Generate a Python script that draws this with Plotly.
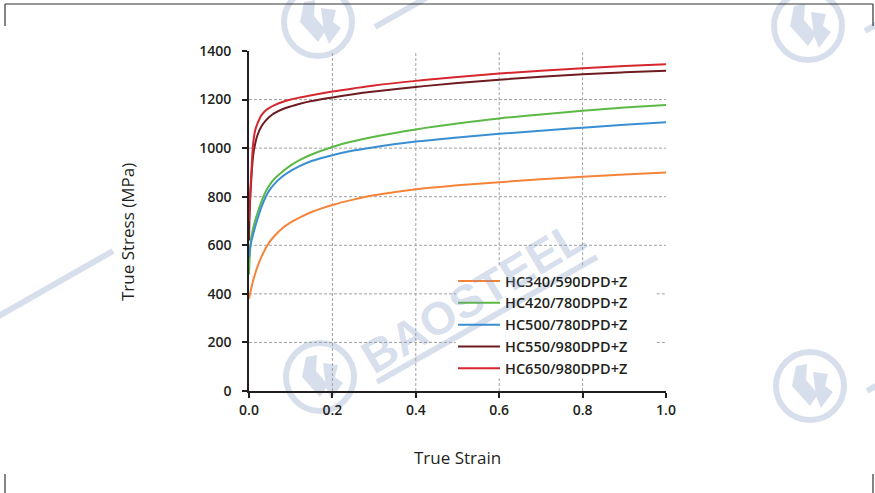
import plotly.graph_objects as go

# ---------------- data ----------------
strain = [0, 0.002, 0.005, 0.01, 0.015, 0.02, 0.03, 0.04, 0.05, 0.06, 0.08, 0.1,
          0.12, 0.15, 0.2, 0.25, 0.3, 0.4, 0.5, 0.6, 0.7, 0.8, 0.9, 1.0]

names = ["HC340/590DPD+Z", "HC420/780DPD+Z", "HC500/780DPD+Z", "HC550/980DPD+Z", "HC650/980DPD+Z"]
hc340 = [380, 396, 420, 455, 484, 510, 553, 588, 615, 636, 670, 694, 713, 737, 766, 788, 806, 831, 847, 860, 872, 882, 891, 900]
hc420 = [480, 560, 625, 670, 703, 731, 781, 821, 850, 872, 903, 929, 950, 974, 1005, 1028, 1047, 1077, 1101, 1122, 1139, 1154, 1167, 1178]
hc500 = [550, 582, 612, 645, 677, 706, 758, 799, 829, 851, 883, 906, 925, 947, 971, 990, 1004, 1027, 1044, 1059, 1072, 1084, 1096, 1107]
hc550 = [620, 760, 860, 970, 1020, 1052, 1090, 1113, 1130, 1143, 1160, 1172, 1182, 1194, 1209, 1222, 1233, 1252, 1268, 1282, 1294, 1304, 1312, 1319]
hc650 = [700, 780, 880, 1020, 1075, 1100, 1136, 1155, 1167, 1176, 1190, 1200, 1208, 1218, 1233, 1246, 1258, 1277, 1293, 1307, 1319, 1329, 1338, 1345]
series = [hc340, hc420, hc500, hc550, hc650]
colors = ["#f5843a", "#5cb946", "#3a8ed2", "#6e1c20", "#d6262e"]

x_ticks = [0, 0.2, 0.4, 0.6, 0.8, 1.0]
y_ticks = [0, 200, 400, 600, 800, 1000, 1200, 1400]

# ---------------- geometry ----------------
W_FIG, H_FIG = 875, 493
L, T, R, B = 249, 51, 209, 102
PW, PH = W_FIG - L - R, H_FIG - T - B

def px2x(px):
    return (px - L) / PW

def py2y(py):
    return (T + PH - py) / PH

TXT = "#231f20"
GRID = "#a0a0a0"
WM = "rgb(216,223,236)"
WM_T = "rgba(118,145,192,0.30)"

fig = go.Figure()
for nm, ys, c in zip(names, series, colors):
    fig.add_trace(go.Scatter(x=strain, y=ys, name=nm, mode="lines",
                             line=dict(color=c, width=2, shape="spline", smoothing=1.0)))

shapes = []
annotations = []

# ---------------- watermark ----------------
logo_centers = [(318, 22), (808, 26), (320, 377), (810, 386), (-164, 371)]
text_sets = [(320, 377)]  # only the fully visible watermark word is written as text
glyph_a = [(-14, -20), (-3, -22), (-4, -6), (8, 8), (0, 20), (-18, 0)]
glyph_b = [(3, -14), (18, -12), (15, 0), (23, 6), (11, 22), (6, 10)]
for cx, cy in logo_centers:
    r = 34
    shapes.append(dict(type="circle", xref="paper", yref="paper", layer="below",
                       x0=px2x(cx - r), x1=px2x(cx + r), y0=py2y(cy + r), y1=py2y(cy - r),
                       line=dict(color=WM, width=6)))
    for g in (glyph_a, glyph_b):
        p = "M" + " L".join(f"{px2x(cx+dx):.5f},{py2y(cy+dy):.5f}" for dx, dy in g) + " Z"
        shapes.append(dict(type="path", xref="paper", yref="paper", layer="below",
                           path=p, fillcolor=WM, line=dict(width=0)))
    shapes.append(dict(type="line", xref="paper", yref="paper", layer="below",
                       x0=px2x(cx + 57), y0=py2y(cy + 5), x1=px2x(cx + 277), y1=py2y(cy - 120),
                       line=dict(color=WM, width=6)))
for cx, cy in text_sets:
    annotations.append(dict(text="<b>BAOSTEEL</b>", xref="paper", yref="paper",
                            x=px2x(cx + 153), y=py2y(cy - 80), showarrow=False,
                            textangle=-31, xanchor="center", yanchor="middle",
                            font=dict(family="Liberation Sans", size=46, color=WM_T)))

# ---------------- crop frame marks ----------------
frame = [((5, 4), (873, 4)), ((5, 4), (5, 26)), ((873, 4), (873, 26)),
         ((5, 474), (5, 493)), ((873, 474), (873, 493))]
for (xa, ya), (xb, yb) in frame:
    shapes.append(dict(type="line", xref="paper", yref="paper", layer="below",
                       x0=px2x(xa), y0=py2y(ya), x1=px2x(xb), y1=py2y(yb),
                       line=dict(color="#333333", width=1.2)))

# ---------------- dashed grid (gap behind legend) ----------------
leg_box = dict(x0=0.496, x1=0.978, y0=52, y1=518)
gdash = dict(color=GRID, width=1, dash="3px,2px")
xmin, xmax, ymin, ymax = x_ticks[0], x_ticks[-1], y_ticks[0], y_ticks[-1]
for yv in y_ticks[1:-1]:
    if leg_box["y0"] < yv < leg_box["y1"]:
        segs = [(xmin, leg_box["x0"]), (leg_box["x1"], xmax)]
    else:
        segs = [(xmin, xmax)]
    for a, b in segs:
        shapes.append(dict(type="line", xref="x", yref="y", layer="below",
                           x0=a, x1=b, y0=yv, y1=yv, line=gdash))
for xv in x_ticks[1:-1]:
    if leg_box["x0"] < xv < leg_box["x1"]:
        segs = [(ymin, leg_box["y0"]), (leg_box["y1"], ymax)]
    else:
        segs = [(ymin, ymax)]
    for a, b in segs:
        shapes.append(dict(type="line", xref="x", yref="y", layer="below",
                           x0=xv, x1=xv, y0=a, y1=b, line=gdash))

# ---------------- axis titles ----------------
annotations.append(dict(text="True Strain", xref="paper", yref="paper",
                        x=px2x(457), y=py2y(457), showarrow=False,
                        xanchor="center", yanchor="middle",
                        font=dict(family="Open Sans", size=17, color=TXT)))
annotations.append(dict(text="True Stress (MPa)", xref="paper", yref="paper",
                        x=px2x(127), y=py2y(232), showarrow=False, textangle=-90,
                        xanchor="center", yanchor="middle",
                        font=dict(family="Open Sans", size=17, color=TXT)))

tickfont = dict(family="Open Sans", size=14, color=TXT, weight=600)
fig.update_layout(
    width=W_FIG, height=H_FIG, autosize=False,
    margin=dict(l=L, r=R, t=T, b=B, pad=0),
    paper_bgcolor="white", plot_bgcolor="rgba(0,0,0,0)",
    shapes=shapes, annotations=annotations,
    showlegend=True,
    legend=dict(x=px2x(453), y=py2y(265), xanchor="left", yanchor="top",
                bgcolor="rgba(0,0,0,0)", borderwidth=0,
                itemwidth=42,
                font=dict(family="Open Sans", size=14.5, color=TXT, weight=600)),
    xaxis=dict(range=[xmin, xmax], tickvals=x_ticks, tickformat=".1f",
               showgrid=False, zeroline=False, showline=True, linecolor=TXT, linewidth=1.6,
               ticks="outside", ticklen=5, tickwidth=1.5, tickcolor=TXT,
               tickfont=tickfont, fixedrange=True),
    yaxis=dict(range=[ymin, ymax], tickvals=y_ticks,
               showgrid=False, zeroline=False, showline=True, linecolor=TXT, linewidth=1.6,
               ticks="outside", ticklen=5, tickwidth=1.5, tickcolor=TXT,
               ticklabelstandoff=8,
               tickfont=tickfont, fixedrange=True),
)

fig.write_html("out.html")
